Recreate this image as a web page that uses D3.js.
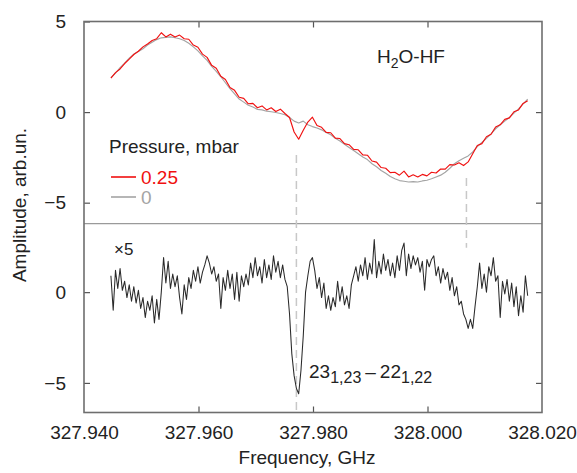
<!DOCTYPE html>
<html><head><meta charset="utf-8">
<script src="https://cdn.jsdelivr.net/npm/d3@7"></script>
<style>
body{margin:0;background:#fff}
svg{display:block}
text{font-family:"Liberation Sans",Arial,sans-serif;fill:#222}
</style>
</head><body>
<svg id="chart" width="577" height="473"></svg>
<script>
// ---------- data ----------
const freqStart = 327.9447;      // GHz, first sample
const topStep = 0.0008;          // GHz between samples (top panel)
const botStep = 0.0004;          // GHz between samples (bottom panel)
const xTicks = [327.94, 327.96, 327.98, 328.00, 328.02];
const topYTicks = [5, 0, -5];
const botYTicks = [0, -5];
const legendTitle = "Pressure, mbar";
const seriesNames = ["0.25", "0"];

const red025 = [1.87,2.18,2.38,2.68,2.92,3.18,3.36,3.60,3.76,3.95,
  4.05,4.38,4.15,4.30,4.14,4.25,4.05,4.02,3.70,3.58,
  3.20,3.02,2.58,2.42,1.98,1.80,1.36,1.20,0.82,0.76,
  0.46,0.48,0.24,0.34,0.12,0.24,0.03,0.16,-0.08,-0.30,
  -1.10,-1.50,-1.00,-0.55,-0.28,-0.74,-0.84,-1.12,-1.14,-1.44,
  -1.46,-1.74,-1.80,-2.06,-2.08,-2.36,-2.38,-2.70,-2.76,-3.06,
  -3.10,-3.34,-3.32,-3.48,-3.26,-3.58,-3.46,-3.58,-3.44,-3.52,
  -3.32,-3.36,-3.14,-3.15,-2.90,-2.92,-2.80,-2.95,-2.75,-2.30,
  -1.84,-1.74,-1.36,-1.22,-0.82,-0.70,-0.40,-0.32,0.02,0.12,
  0.48,0.63];

const gray0 = [1.90,2.15,2.45,2.70,2.98,3.20,3.35,3.50,3.70,3.85,
  4.00,4.10,4.12,4.15,4.10,4.05,3.95,3.80,3.60,3.38,
  3.10,2.85,2.52,2.25,1.95,1.62,1.30,1.00,0.72,0.55,
  0.38,0.28,0.15,0.12,0.05,0.02,-0.02,-0.08,-0.15,-0.30,
  -0.50,-0.60,-0.50,-0.70,-0.80,-0.88,-0.98,-1.12,-1.25,-1.45,
  -1.60,-1.78,-1.95,-2.12,-2.30,-2.48,-2.62,-2.85,-3.02,-3.22,
  -3.38,-3.55,-3.68,-3.78,-3.82,-3.86,-3.84,-3.86,-3.80,-3.76,
  -3.68,-3.58,-3.48,-3.32,-3.10,-2.85,-2.68,-2.55,-2.42,-2.20,
  -1.90,-1.68,-1.45,-1.20,-0.92,-0.70,-0.50,-0.30,-0.06,0.18,
  0.45,0.72];

// difference spectrum, multiplied by 5
const diffX5 = [0.9,-1.0,1.2,0.2,1.3,0.1,0.6,-0.3,0.4,-0.5,
  0.3,-0.6,0.1,-0.9,-0.3,-1.4,-0.5,-1.0,-0.2,-1.7,
  -0.4,-1.5,0.0,1.9,0.5,1.7,0.2,1.0,0.3,0.9,
  -0.3,-1.2,0.4,-0.4,0.8,0.2,1.2,0.6,1.4,0.5,
  1.1,1.5,2.0,1.6,1.0,1.4,0.6,1.0,-0.9,0.8,
  0.1,1.2,0.2,1.0,-0.4,1.1,-0.5,0.9,0.3,1.0,
  0.4,1.6,0.8,1.9,0.9,1.4,0.5,1.8,0.8,1.5,
  0.7,2.0,1.1,1.7,0.8,1.5,0.7,0.3,-1.2,-3.4,
  -4.6,-5.3,-5.6,-4.3,-2.4,0.0,0.9,1.7,1.9,1.2,
  0.2,0.8,-0.3,0.5,-0.9,-0.2,-1.0,-0.3,-0.8,0.6,
  -0.5,0.3,-0.7,-0.2,-0.9,0.4,0.9,1.4,0.6,1.5,
  0.9,1.9,0.7,1.6,1.0,2.9,0.8,1.7,1.0,2.1,
  1.2,1.8,0.9,1.6,0.8,2.0,1.2,2.3,2.7,0.9,
  2.1,1.3,2.0,1.5,1.9,1.1,1.7,0.1,1.8,1.4,
  1.8,2.0,0.9,1.4,0.5,1.3,0.7,1.1,0.1,0.8,
  -0.2,0.3,-0.7,-0.5,-1.2,-1.5,-2.0,-1.5,-2.0,-0.8,
  0.3,1.6,0.2,1.0,0.0,1.4,0.9,1.9,0.6,0.9,
  -1.4,0.6,-0.1,0.7,-0.5,0.5,-0.8,0.3,-1.3,-0.2,
  -1.1,0.9,-0.2];

// marker lines: frequency, top-panel start value, bottom-panel end value
const markerFreqs = [327.9771, 328.0068];
const markerTopFrom = [-2.37, -3.64];
const markerBotTo = [-6.55, 2.45];

// ---------- layout ----------
const L = 84, R = 542, T = 21.5, B = 412.5, SEP = 223.7;
const svg = d3.select("#chart");

const x = d3.scaleLinear().domain([327.94, 328.02]).range([L, R]);
const yTop = d3.scaleLinear().domain([-6.16, 5]).range([SEP, T]);
const yBot = d3.scaleLinear().domain([-6.63, 3.77]).range([B, SEP]);

const fontPx = 19;
function styleAxis(g, showText) {
  g.select(".domain").remove();
  g.selectAll(".tick line").attr("stroke", "#555").attr("stroke-width", 1.2);
  g.selectAll(".tick text").attr("font-size", fontPx).attr("fill", "#222")
    .attr("font-family", '"Liberation Sans",Arial,sans-serif');
  if (!showText) g.selectAll(".tick text").remove();
}

// axes: left (labels), right (ticks only), bottom (labels), top (ticks only)
svg.append("g").attr("transform", `translate(${L},0)`)
  .call(d3.axisLeft(yTop).tickValues(topYTicks).tickSizeInner(-6).tickSizeOuter(0).tickPadding(18).tickFormat(d3.format("d")))
  .call(g => styleAxis(g, true));
svg.append("g").attr("transform", `translate(${L},0)`)
  .call(d3.axisLeft(yBot).tickValues(botYTicks).tickSizeInner(-6).tickSizeOuter(0).tickPadding(18).tickFormat(d3.format("d")))
  .call(g => styleAxis(g, true));
svg.append("g").attr("transform", `translate(${R},0)`)
  .call(d3.axisRight(yTop).tickValues([0, -5]).tickSizeInner(-6).tickSizeOuter(0))
  .call(g => styleAxis(g, false));
svg.append("g").attr("transform", `translate(${R},0)`)
  .call(d3.axisRight(yBot).tickValues(botYTicks).tickSizeInner(-6).tickSizeOuter(0))
  .call(g => styleAxis(g, false));
svg.append("g").attr("transform", `translate(0,${B})`)
  .call(d3.axisBottom(x).tickValues(xTicks).tickSizeInner(-6).tickSizeOuter(0).tickPadding(13).tickFormat(d3.format(".3f")))
  .call(g => styleAxis(g, true))
  .call(g => g.selectAll(".tick").filter(d => d === xTicks[0] || d === xTicks[xTicks.length-1]).select("line").remove());
svg.append("g").attr("transform", `translate(0,${T})`)
  .call(d3.axisTop(x).tickValues(xTicks.slice(1, -1)).tickSizeInner(-6).tickSizeOuter(0))
  .call(g => styleAxis(g, false));

// separator line between panels
svg.append("line").attr("x1", L).attr("x2", R).attr("y1", SEP).attr("y2", SEP)
  .attr("stroke", "#9a9a9a").attr("stroke-width", 1.2);

// dashed marker lines
markerFreqs.forEach((f, i) => {
  svg.append("line")
    .attr("x1", x(f)).attr("x2", x(f))
    .attr("y1", yTop(markerTopFrom[i])).attr("y2", yBot(markerBotTo[i]))
    .attr("stroke", "#c8c8c8").attr("stroke-width", 1.5)
    .attr("stroke-dasharray", "8,5");
});

// curves
const lineTop = d3.line().x((d, i) => x(freqStart + i * topStep)).y(d => yTop(d));
const lineBot = d3.line().x((d, i) => x(freqStart + i * botStep)).y(d => yBot(d));

svg.append("path").datum(gray0).attr("d", lineTop)
  .attr("fill", "none").attr("stroke", "#a4a4a4").attr("stroke-width", 1.15).attr("stroke-linejoin", "round");
svg.append("path").datum(red025).attr("d", lineTop)
  .attr("fill", "none").attr("stroke", "#f01010").attr("stroke-width", 1.15).attr("stroke-linejoin", "round");
svg.append("path").datum(diffX5).attr("d", lineBot)
  .attr("fill", "none").attr("stroke", "#2a2a2a").attr("stroke-width", 1.05).attr("stroke-linejoin", "round");

// frame
svg.append("rect").attr("x", L).attr("y", T).attr("width", R - L).attr("height", B - T)
  .attr("fill", "none").attr("stroke", "#6e6e6e").attr("stroke-width", 1.6);

// axis titles
svg.append("text").attr("x", 307).attr("y", 464).attr("text-anchor", "middle")
  .attr("font-size", fontPx).text("Frequency, GHz");
svg.append("text").attr("transform", "translate(26,205) rotate(-90)").attr("text-anchor", "middle")
  .attr("font-size", fontPx).text("Amplitude, arb.un.");

// molecule label
const mol = svg.append("text").attr("x", 377).attr("y", 63).attr("font-size", fontPx);
mol.append("tspan").text("H");
mol.append("tspan").attr("font-size", 14).attr("dy", 5).text("2");
mol.append("tspan").attr("dy", -5).text("O-HF");

// legend
const legColors = ["#f01010", "#a4a4a4"];
svg.append("text").attr("x", 109).attr("y", 153).attr("font-size", fontPx).text(legendTitle);
seriesNames.forEach((s, i) => {
  const yy = 177 + i * 20;
  svg.append("line").attr("x1", 111).attr("x2", 136).attr("y1", yy).attr("y2", yy)
    .attr("stroke", legColors[i]).attr("stroke-width", 1.6);
  svg.append("text").attr("x", 141).attr("y", yy + 7).attr("font-size", fontPx)
    .style("fill", legColors[i]).text(s);
});

// x5 label
svg.append("text").attr("x", 114).attr("y", 255).attr("font-size", 17).text("×5");

// transition label
const tr = svg.append("text").attr("x", 309).attr("y", 378).attr("font-size", fontPx);
tr.append("tspan").text("23");
tr.append("tspan").attr("font-size", 16).attr("dy", 5).text("1,23");
tr.append("tspan").attr("dy", -5).attr("dx", 4).text("–");
tr.append("tspan").attr("dx", 4).text("22");
tr.append("tspan").attr("font-size", 16).attr("dy", 5).text("1,22");
</script>
</body></html>
